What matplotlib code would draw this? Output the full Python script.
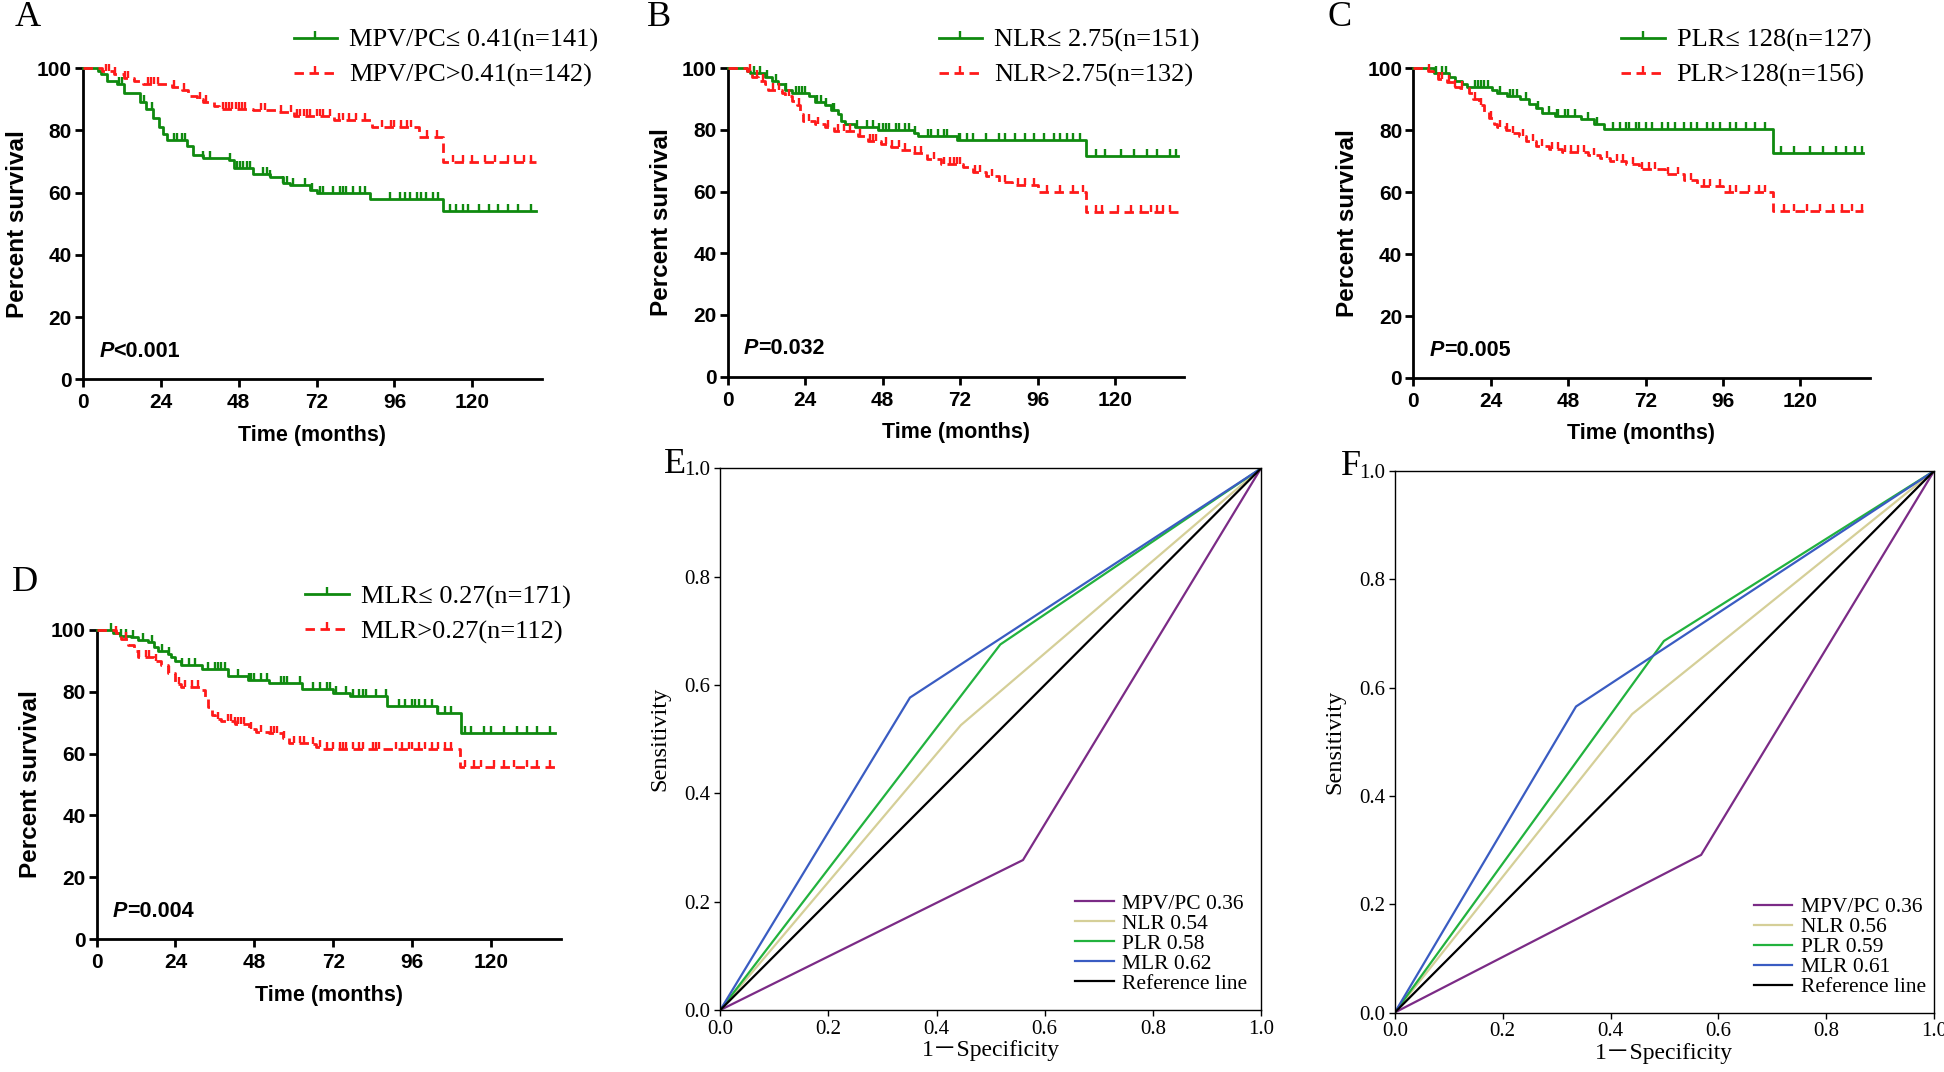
import numpy as np
import matplotlib
matplotlib.use("Agg")
import matplotlib.pyplot as plt
from matplotlib.lines import Line2D
from matplotlib.path import Path

# ---------------- data ----------------
km_xticks = [0, 24, 48, 72, 96, 120]
km_yticks = [0, 20, 40, 60, 80, 100]
roc_ticks = [0.0, 0.2, 0.4, 0.6, 0.8, 1.0]
t_end = 139.5

# Panel A : MPV/PC
a_low_t = [4.5, 5.5, 7.5, 10.5, 12.5, 17.5, 19.5, 21.5, 23.5, 24.8, 25.8, 32, 34, 37, 45, 46.5, 52.5, 57.5, 61.5, 63.8, 70, 72, 88.4, 111]
a_low_s = [99, 98, 96, 95, 92, 89, 87, 84, 81, 79, 77, 75, 72, 71, 70.5, 68, 66, 65, 63, 62.5, 61, 60, 58, 54]
a_low_c = [11, 12, 18.7, 21.2, 28, 29, 30.5, 31.5, 37.1, 39.2, 45.3, 47.4, 48.4, 49.4, 50.5, 51.5, 55.6, 56.6, 57.6, 61.7, 62.8,
           64.8, 68.4, 70.5, 73, 74, 77.1, 79.2, 80.2, 81.2, 83.3, 85.3, 86.9, 94.6, 97.6, 99.2, 100.7, 102.8, 104.3, 105.8,
           107.9, 109.4, 113, 115.1, 117.1, 118.7, 122, 125, 128, 131, 134, 138]
a_high_t = [5.8, 9.4, 12.5, 15.6, 18.5, 27.5, 30.5, 32.5, 35, 37, 40.5, 42, 52.5, 60, 65, 77.5, 89, 103.5, 111]
a_high_s = [99, 98, 97, 96, 95, 94, 93, 91, 90, 89, 88, 87, 86.5, 86, 84.5, 83.5, 81, 78, 70]
a_high_c = [7, 8, 10, 13, 14, 20, 21, 22, 23, 28, 31, 36, 38, 43, 44, 45, 46, 47, 48, 49, 50, 55, 56, 61, 64, 66, 67, 68, 69, 70,
            72, 73, 74, 76, 79, 80, 82, 84, 87, 92, 95, 96, 98, 100, 101, 106, 109, 114, 117, 120, 124, 127, 131, 133, 136, 138]

# Panel B : NLR
b_low_t = [6, 7, 11.6, 13.6, 15.7, 17.7, 19.8, 25, 27, 30, 32, 34, 35.2, 36.2, 39.3, 46.5, 57.7, 58.8, 71, 111]
b_low_s = [99, 98.5, 97, 96, 95, 93, 92, 91, 89, 88, 86.5, 85, 83, 82, 81, 80, 79, 78, 76.7, 71.5]
b_low_c = [8, 10, 12, 15, 18, 21, 22, 23, 24, 27.5, 29, 30.5, 32.5, 33, 40, 43, 45, 47, 48, 49, 50, 52, 53, 55, 56, 58, 62, 63,
           65, 67, 68, 71.5, 72, 74, 76, 80, 84, 86, 89, 92, 95, 98, 101, 103, 105, 107, 109, 114, 117, 122, 126, 130, 133, 137, 139]
b_high_t = [6, 7.5, 9.5, 11.6, 12.6, 16.7, 17.7, 19.8, 21.3, 22.4, 23.4, 27, 30, 33, 40.3, 43.4, 47.5, 50.6, 53.6, 56.7, 61.8,
            66, 73, 76, 80, 84, 88, 96, 111]
b_high_s = [99, 97, 96, 95, 93, 92, 91, 89.5, 88, 85, 83, 82, 81, 79.5, 78, 76.5, 75.5, 74.5, 73.5, 72.5, 70.5, 69, 68, 66.5, 65,
            63, 62, 60, 53.4]
b_high_c = [7, 9, 11, 14, 16, 19, 22, 25, 28, 31, 34, 36, 38, 41, 44, 45, 46, 49, 51, 53, 55, 58, 60, 64, 67, 69, 70, 71, 72,
            76.5, 78, 82, 86, 90, 92, 95, 99, 103, 107, 110, 114, 116, 121, 125, 128, 131, 133, 135, 137]

# Panel C : PLR
c_low_t = [6.5, 11, 13, 15, 16.5, 24.5, 26, 29, 33, 36, 38, 40, 44, 52, 56, 59, 111.5]
c_low_s = [98.5, 97, 96, 95, 94, 93, 92, 91, 90, 88.5, 87, 85.5, 84.5, 83.5, 82, 80.5, 72.5]
c_low_c = [7, 9, 10, 19, 20, 21, 22, 23, 27, 30, 31, 32, 35, 38.5, 42, 44.5, 45, 47, 48, 50, 54, 57, 62, 64, 66, 67, 69, 70, 72,
           74, 77, 79, 81, 84, 86, 88, 91, 93, 95, 98, 100, 103, 106, 109, 114, 118, 123, 127, 131, 134, 137, 139]
c_high_t = [4.6, 6.2, 7.7, 10.3, 12.8, 14.4, 17.4, 18.5, 20.5, 22, 23.6, 25, 26, 28.7, 30.8, 32.8, 35, 38, 42, 46, 54, 58, 61,
            66, 70, 78, 84, 88, 96, 111.5]
c_high_s = [99, 98, 96.5, 95.5, 94, 93.5, 92, 90, 88, 86, 84, 82, 81, 80, 79, 78, 76.5, 75, 74, 73, 72, 71, 70, 69, 67.5, 66,
            64, 62, 60, 54]
c_high_c = [5, 8, 9, 11, 13, 15, 19, 21, 24, 27, 29, 31, 34, 37, 40, 43, 45, 47, 49, 51, 53, 56, 60, 63, 65, 68, 71, 73, 75, 79,
            82, 86, 90, 92, 95, 98, 100, 104, 107, 109, 115, 118, 122, 126, 130, 133, 136, 139]

# Panel D : MLR
d_low_t = [5, 7, 10.5, 12.5, 15.6, 17.6, 18.6, 21.7, 22.7, 23.8, 25.8, 32, 40, 46, 52.5, 62.5, 72, 77, 88.3, 103.7, 110.9]
d_low_s = [99, 98, 97.5, 96.5, 96, 94.5, 93, 92, 91, 90, 88.5, 87.2, 85, 83.8, 82.7, 80.8, 79.5, 78.6, 75.4, 73, 66.5]
d_low_c = [4.3, 7.5, 9, 11, 14, 17, 20, 22, 26, 28, 30, 34, 36, 37, 38, 39, 43, 46.5, 47, 48, 50, 52, 56, 57, 58, 62, 66, 68,
           70, 71, 73, 76, 78, 80, 81, 82, 85, 88, 92, 94, 96, 97, 98, 100, 102, 104, 106, 108, 112, 114, 118, 120, 124, 128,
           131, 134, 138]
d_high_t = [5.8, 7.4, 9.4, 11.5, 12.5, 17.6, 19.7, 21.7, 23.8, 25.8, 32, 33, 34, 35, 36, 38, 42, 46.3, 48.4, 52.5, 56.6, 58.6,
            64.8, 66.8, 68.9, 110.5]
d_high_s = [99, 97, 95, 93, 91, 90, 88.5, 86, 82.5, 81.5, 80.5, 78, 75, 72.5, 71, 70.5, 69.5, 68, 67, 66.5, 65, 63.5, 63, 62,
            61.5, 55.5]
d_high_c = [6, 9, 13, 15, 16, 18, 22, 25, 27, 29, 31, 37, 40, 41, 42, 43, 44, 45, 47, 50, 53, 54, 55, 57, 60, 62, 63, 66, 68,
            70, 72, 74, 75, 76, 78, 80, 81, 84, 85, 86, 91, 93, 95, 96, 98, 100, 102, 104, 106, 108, 112, 115, 117, 121, 124,
            127, 131, 134, 138]

km_labels = {
    "A": ("MPV/PC\u2264 0.41(n=141)", "MPV/PC>0.41(n=142)", "<0.001"),
    "B": ("NLR\u2264 2.75(n=151)", "NLR>2.75(n=132)", "=0.032"),
    "C": ("PLR\u2264 128(n=127)", "PLR>128(n=156)", "=0.005"),
    "D": ("MLR\u2264 0.27(n=171)", "MLR>0.27(n=112)", "=0.004"),
}

# ROC data: single cut-point (FPR, TPR)
roc_names = ["MPV/PC", "NLR", "PLR", "MLR"]
e_fpr = [0.56, 0.445, 0.518, 0.351]
e_tpr = [0.277, 0.526, 0.675, 0.577]
e_auc = ["0.36", "0.54", "0.58", "0.62"]
f_fpr = [0.568, 0.44, 0.499, 0.336]
f_tpr = [0.291, 0.551, 0.686, 0.565]
f_auc = ["0.36", "0.56", "0.59", "0.61"]
roc_colors = ["#7B2B86", "#D5CF98", "#22B23E", "#3A5CC2"]

# ---------------- style ----------------
GREEN = "#0F8A0F"
RED = "#FF1A1A"
SANS = ["Liberation Sans", "DejaVu Sans"]
SERIF = ["Liberation Serif", "DejaVu Serif"]
SERIF_CJK = ["Liberation Serif", "Noto Sans CJK SC", "DejaVu Sans"]

tick_up = Path([(0, 0), (0, 1)], [Path.MOVETO, Path.LINETO])

fig = plt.figure(figsize=(19.44, 10.72), dpi=100)


def draw_km(ax, low, high, key, leg_xy):
    for (et, es, ce), color, dashed, z in [(low, GREEN, False, 3), (high, RED, True, 4)]:
        t = np.concatenate([[0.0], et, [t_end]])
        s = np.concatenate([[100.0], es, [es[-1]]])
        ls = (0, (3.4, 2.0)) if dashed else "-"
        ax.plot(t, s, drawstyle="steps-post", color=color, lw=2.0, ls=ls, zorder=z, clip_on=False)
        idx = np.searchsorted(np.asarray(et), np.asarray(ce), side="right")
        cs = np.concatenate([[100.0], es])[idx]
        ax.plot(ce, cs, ls="none", marker=tick_up, ms=10, mew=1.7, mfc="none", color=color, zorder=z, clip_on=False)
    ax.set_xlim(0, 141.4)
    ax.set_ylim(0, 100)
    ax.set_xticks(km_xticks)
    ax.set_yticks(km_yticks)
    ax.set_xticklabels([str(v) for v in km_xticks], fontfamily=SANS, fontweight="bold", fontsize=15)
    ax.set_yticklabels([str(v) for v in km_yticks], fontfamily=SANS, fontweight="bold", fontsize=15)
    for sp in ("top", "right"):
        ax.spines[sp].set_visible(False)
    for sp in ("left", "bottom"):
        ax.spines[sp].set_linewidth(2.0)
    ax.tick_params(axis="x", width=2.0, length=6, pad=4, direction="out")
    ax.tick_params(axis="y", width=2.0, length=6, pad=2, direction="out")
    ax.set_xlabel("Time (months)", fontfamily=SANS, fontweight="bold", fontsize=15.5, labelpad=9)
    ax.set_ylabel("Percent survival", fontfamily=SANS, fontweight="bold", fontsize=17.5, labelpad=6)
    lab_low, lab_high, ptxt = km_labels[key]
    p1 = ax.text(5.0, 9, "P", fontfamily=SANS, fontweight="bold", fontstyle="italic", fontsize=15.5, va="center", ha="left")
    ax.annotate(ptxt, xy=(1.0, 0.5), xycoords=p1, va="center", ha="left", fontfamily=SANS, fontweight="bold", fontsize=15.5)
    h1 = Line2D([], [], color=GREEN, lw=2.0, marker=tick_up, ms=10, mew=1.7, mfc="none")
    h2 = Line2D([], [], color=RED, lw=2.0, ls=(0, (3.4, 2.0)), marker=tick_up, ms=10, mew=1.7, mfc="none")
    ax.legend([h1, h2], [lab_low, lab_high], loc="center left", bbox_to_anchor=leg_xy, bbox_transform=fig.transFigure,
              frameon=False, prop={"family": SERIF, "size": 19}, handlelength=1.65, handletextpad=0.45,
              labelspacing=0.42, borderpad=0, borderaxespad=0, numpoints=1)


def draw_roc(ax, fpr, tpr, auc, leg_anchor):
    handles = []
    for name, fp, tp, a, c in zip(roc_names, fpr, tpr, auc, roc_colors):
        h, = ax.plot([0, fp, 1], [0, tp, 1], color=c, lw=1.6, label=f"{name} {a}")
        handles.append(h)
    h, = ax.plot([0, 1], [0, 1], color="black", lw=1.6, label="Reference line")
    handles.append(h)
    ax.set_xlim(0, 1)
    ax.set_ylim(0, 1)
    ax.set_xticks(roc_ticks)
    ax.set_yticks(roc_ticks)
    ax.set_xticklabels([f"{v:.1f}" for v in roc_ticks], fontfamily=SERIF, fontsize=15)
    ax.set_yticklabels([f"{v:.1f}" for v in roc_ticks], fontfamily=SERIF, fontsize=15)
    for sp in ax.spines.values():
        sp.set_linewidth(1.0)
    ax.tick_params(width=1.0, length=4, pad=3, direction="out")
    ax.set_xlabel("1\uff0dSpecificity", fontfamily=SERIF_CJK, fontsize=17, labelpad=1)
    ax.set_ylabel("Sensitivity", fontfamily=SERIF, fontsize=17.5, labelpad=10)
    ax.legend(handles=handles, loc="lower right", bbox_to_anchor=leg_anchor, frameon=False,
              prop={"family": SERIF, "size": 15.5}, handlelength=1.8, handletextpad=0.4, labelspacing=0.0,
              borderpad=0, borderaxespad=0)


axA = fig.add_axes([0.0427, 0.6462, 0.2360, 0.2902])
axB = fig.add_axes([0.3744, 0.6486, 0.2347, 0.2878])
axC = fig.add_axes([0.7270, 0.6474, 0.2347, 0.2890])
axD = fig.add_axes([0.0497, 0.1237, 0.2390, 0.2890])
axE = fig.add_axes([0.3705, 0.0578, 0.2781, 0.5052])
axF = fig.add_axes([0.7175, 0.0555, 0.2774, 0.5052])

draw_km(axA, (a_low_t, a_low_s, a_low_c), (a_high_t, a_high_s, a_high_c), "A", (0.151, 0.946))
draw_km(axB, (b_low_t, b_low_s, b_low_c), (b_high_t, b_high_s, b_high_c), "B", (0.4828, 0.946))
draw_km(axC, (c_low_t, c_low_s, c_low_c), (c_high_t, c_high_s, c_high_c), "C", (0.834, 0.946))
draw_km(axD, (d_low_t, d_low_s, d_low_c), (d_high_t, d_high_s, d_high_c), "D", (0.157, 0.4266))

draw_roc(axE, e_fpr, e_tpr, e_auc, (0.975, 0.03))
draw_roc(axF, f_fpr, f_tpr, f_auc, (0.985, 0.028))

for letter, x, y in [("A", 0.014, 0.984), ("B", 0.339, 0.984), ("C", 0.689, 0.984),
                     ("D", 0.013, 0.457), ("E", 0.347, 0.567), ("F", 0.695, 0.565)]:
    fig.text(x, y, letter, fontfamily=SERIF, fontsize=26, ha="center", va="center")

fig.savefig("out.png", dpi=100)
